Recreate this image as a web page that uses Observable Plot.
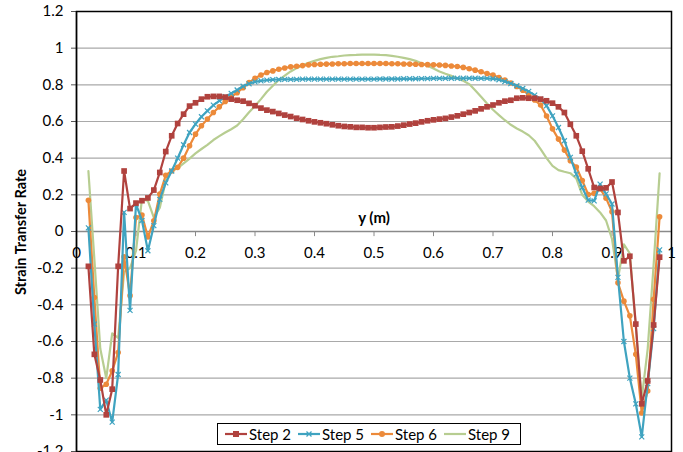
<!DOCTYPE html>
<html>
<head>
<meta charset="utf-8">
<script src="https://cdn.jsdelivr.net/npm/d3@7"></script>
<script src="https://cdn.jsdelivr.net/npm/@observablehq/plot@0.6"></script>
<style>
  html, body { margin: 0; padding: 0; background: #fff; }
  #wrap { position: relative; width: 683px; height: 452px; overflow: hidden; }
  #legend {
    position: absolute; left: 217px; top: 423px; width: 295px; height: 20px;
    border: 1.5px solid #000; background: #fff; box-sizing: content-box;
    display: flex; align-items: center; padding-left: 7px;
    font-family: Lato, sans-serif; font-size: 15px; color: #000;
  }
  .item { display: flex; align-items: center; margin-right: 7px; }
  .item svg { margin-right: 2px; }
</style>
</head>
<body>
<div id="wrap"><div id="chart"></div><div id="legend"></div></div>
<script>
const xs = [0.02,0.03,0.04,0.05,0.06,0.07,0.08,0.09,0.10,0.11,0.12,0.13,0.14,0.15,0.16,0.17,0.18,0.19,0.20,
0.21,0.22,0.23,0.24,0.25,0.26,0.27,0.28,0.29,0.30,0.31,0.32,0.33,0.34,0.35,0.36,0.37,0.38,0.39,0.40,
0.41,0.42,0.43,0.44,0.45,0.46,0.47,0.48,0.49,0.50,0.51,0.52,0.53,0.54,0.55,0.56,0.57,0.58,0.59,0.60,
0.61,0.62,0.63,0.64,0.65,0.66,0.67,0.68,0.69,0.70,0.71,0.72,0.73,0.74,0.75,0.76,0.77,0.78,0.79,0.80,
0.81,0.82,0.83,0.84,0.85,0.86,0.87,0.88,0.89,0.90,0.91,0.92,0.93,0.94,0.95,0.96,0.97,0.98];

const step2 = [-0.19,-0.67,-0.81,-1.00,-0.86,-0.19,0.33,0.125,0.155,0.168,0.183,0.226,0.322,0.436,0.522,0.589,0.64,0.684,0.702,
0.722,0.735,0.737,0.737,0.733,0.722,0.716,0.711,0.699,0.686,0.673,0.662,0.654,0.644,0.635,0.627,0.618,0.611,0.604,0.598,
0.593,0.588,0.582,0.577,0.573,0.571,0.568,0.568,0.566,0.566,0.568,0.570,0.571,0.575,0.580,0.586,0.591,0.598,0.604,0.609,
0.613,0.617,0.624,0.631,0.640,0.649,0.658,0.669,0.680,0.690,0.702,0.711,0.716,0.727,0.729,0.727,0.727,0.722,0.713,0.700,
0.680,0.649,0.585,0.522,0.438,0.342,0.240,0.235,0.238,0.270,0.104,-0.160,-0.135,-0.505,-0.94,-0.815,-0.51,-0.14];

const step5 = [0.02,-0.505,-0.97,-0.92,-1.04,-0.78,0.104,-0.43,0.149,0.06,-0.105,0.032,0.175,0.265,0.330,0.400,0.473,0.540,0.586,
0.626,0.658,0.689,0.713,0.735,0.753,0.772,0.792,0.806,0.816,0.822,0.826,0.828,0.829,0.830,0.830,0.830,0.831,0.831,0.831,
0.831,0.831,0.831,0.831,0.831,0.831,0.831,0.831,0.831,0.831,0.832,0.832,0.832,0.832,0.833,0.833,0.833,0.834,0.834,0.835,
0.835,0.835,0.836,0.836,0.836,0.836,0.836,0.835,0.835,0.833,0.828,0.818,0.807,0.795,0.780,0.764,0.744,0.722,0.686,0.631,
0.567,0.495,0.404,0.313,0.240,0.171,0.167,0.258,0.205,0.150,-0.25,-0.60,-0.80,-0.94,-1.12,-0.83,-0.53,-0.10];

const step6 = [0.17,-0.36,-0.855,-0.833,-0.76,-0.66,-0.138,-0.35,0.076,0.09,-0.03,0.058,0.204,0.307,0.330,0.350,0.400,0.468,0.531,
0.577,0.613,0.649,0.680,0.709,0.735,0.757,0.784,0.812,0.836,0.854,0.867,0.876,0.885,0.892,0.898,0.901,0.905,0.909,0.911,
0.912,0.913,0.914,0.915,0.915,0.916,0.916,0.916,0.916,0.916,0.916,0.916,0.915,0.915,0.914,0.913,0.912,0.911,0.910,0.909,
0.908,0.906,0.903,0.900,0.895,0.888,0.880,0.871,0.862,0.853,0.840,0.826,0.810,0.791,0.771,0.746,0.717,0.690,0.630,0.560,
0.504,0.444,0.386,0.352,0.278,0.202,0.208,0.233,0.182,0.108,-0.28,-0.38,-0.46,-0.67,-0.99,-0.87,-0.37,0.08];

const step9 = [0.33,-0.15,-0.64,-0.80,-0.556,-0.58,-0.22,-0.20,-0.105,0.177,0.167,0.076,0.13,0.277,0.330,0.345,0.371,0.398,0.426,
0.450,0.473,0.499,0.520,0.540,0.558,0.578,0.612,0.650,0.685,0.722,0.762,0.795,0.826,0.850,0.873,0.891,0.907,0.920,0.931,
0.940,0.947,0.953,0.956,0.960,0.962,0.963,0.965,0.965,0.965,0.963,0.962,0.958,0.953,0.947,0.940,0.931,0.918,0.904,0.889,
0.873,0.860,0.849,0.835,0.822,0.804,0.771,0.735,0.698,0.664,0.635,0.607,0.582,0.562,0.545,0.525,0.495,0.449,0.400,0.358,
0.335,0.326,0.318,0.290,0.200,0.163,0.138,0.104,0.060,-0.04,-0.26,-0.07,-0.12,-0.52,-0.91,-0.64,-0.18,0.317];

const seriesNames = ["Step 2", "Step 5", "Step 6", "Step 9"];
const seriesValues = [step2, step5, step6, step9];
const seriesColors = ["#b0423e", "#3fa3c0", "#ec8a3a", "#b7cd91"];

const yTicks = [-1.2,-1,-0.8,-0.6,-0.4,-0.2,0,0.2,0.4,0.6,0.8,1,1.2];
const yTickLabels = ["-1.2","-1","-0.8","-0.6","-0.4","-0.2","0","0.2","0.4","0.6","0.8","1","1.2"];
const xTicks = [0,0.1,0.2,0.3,0.4,0.5,0.6,0.7,0.8,0.9,1];
const xTickLabels = ["0","0.1","0.2","0.3","0.4","0.5","0.6","0.7","0.8","0.9","1"];

const rows = [];
seriesNames.forEach((name, i) => {
  seriesValues[i].forEach((v, j) => rows.push({series: name, x: xs[j], y: v}));
});
const bySeries = name => rows.filter(d => d.series === name);

const color = {domain: seriesNames, range: seriesColors};

const chart = Plot.plot({
  width: 683,
  height: 452,
  marginLeft: 76,
  marginRight: 12,
  marginTop: 11,
  marginBottom: 1,
  style: {fontFamily: "Lato, sans-serif", fontSize: "15px", color: "#000", background: "#fff", overflow: "visible"},
  x: {domain: [0, 1], axis: null},
  y: {domain: [-1.2, 1.2], axis: null},
  color,
  marks: [
    Plot.gridY(yTicks, {stroke: "#a9a9a9", strokeOpacity: 1, strokeWidth: 1.2}),
    Plot.ruleY([0], {stroke: "#8a8a8a", strokeWidth: 1.3}),
    Plot.ruleX(xTicks, {x: d => d, y1: 0, y2: -0.028, stroke: "#8a8a8a"}),
    Plot.text(xTicks, {x: d => d, y: 0, dy: 22, text: (d, i) => xTickLabels[i], fill: "#000"}),
    Plot.text(["y (m)"], {x: 0.5, y: 0, dy: -13, text: d => d, fontWeight: "bold", fill: "#000"}),
    Plot.axisY({ticks: yTicks, tickFormat: (d) => yTickLabels[yTicks.indexOf(d)], tickSize: 5, tickPadding: 8, label: null, fontSize: 15, stroke: "#555"}),
    Plot.line(bySeries("Step 9"), {x: "x", y: "y", stroke: seriesColors[3], strokeWidth: 2.2}),
    Plot.line(bySeries("Step 6"), {x: "x", y: "y", stroke: seriesColors[2], strokeWidth: 2.2}),
    Plot.dot(bySeries("Step 6"), {x: "x", y: "y", fill: seriesColors[2], r: 2.8, symbol: "circle"}),
    Plot.line(bySeries("Step 5"), {x: "x", y: "y", stroke: seriesColors[1], strokeWidth: 2.2}),
    Plot.dot(bySeries("Step 5"), {x: "x", y: "y", stroke: seriesColors[1], r: 2.4, symbol: "times", strokeWidth: 1.2}),
    Plot.line(bySeries("Step 2"), {x: "x", y: "y", stroke: seriesColors[0], strokeWidth: 2.2}),
    Plot.dot(bySeries("Step 2"), {x: "x", y: "y", fill: seriesColors[0], r: 3.2, symbol: "square"}),
    Plot.ruleX([0], {stroke: "#404040", strokeWidth: 1.5}),
    Plot.frame({stroke: "#000", strokeWidth: 1.5})
  ]
});

// y-axis title
const svg = d3.select(chart);
svg.append("text")
  .attr("transform", "translate(22,232) rotate(-90)")
  .attr("text-anchor", "middle")
  .attr("dominant-baseline", "middle")
  .style("font-family", "Lato, sans-serif")
  .style("font-size", "14.5px")
  .style("font-weight", "bold")
  .attr("fill", "#000")
  .text("Strain Transfer Rate");

document.getElementById("chart").appendChild(chart);

// legend
const legend = d3.select("#legend");
const markerKind = ["square", "times", "circle", "none"];
seriesNames.forEach((name, i) => {
  const item = legend.append("div").attr("class", "item");
  const s = item.append("svg").attr("width", 22).attr("height", 10);
  s.append("line").attr("x1", 0).attr("x2", 22).attr("y1", 5).attr("y2", 5)
    .attr("stroke", seriesColors[i]).attr("stroke-width", 2.2);
  if (markerKind[i] === "square") s.append("rect").attr("x", 8).attr("y", 2).attr("width", 6).attr("height", 6).attr("fill", seriesColors[i]);
  if (markerKind[i] === "circle") s.append("circle").attr("cx", 11).attr("cy", 5).attr("r", 3).attr("fill", seriesColors[i]);
  if (markerKind[i] === "times") s.append("path").attr("d", "M8.5,2.5L13.5,7.5M13.5,2.5L8.5,7.5").attr("stroke", seriesColors[i]).attr("stroke-width", 1.3);
  item.append("span").text(name);
});
</script>
</body>
</html>
